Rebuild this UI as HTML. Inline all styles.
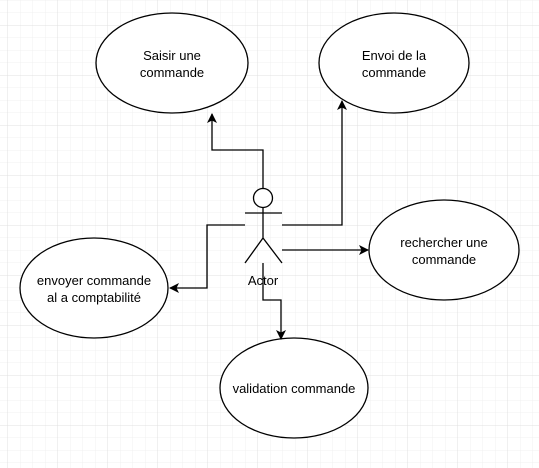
<!DOCTYPE html>
<html><head><meta charset="utf-8"><style>
html,body{margin:0;padding:0;background:#fff;}
svg{display:block;}
text{font-family:"Liberation Sans",Arial,sans-serif;font-size:13px;fill:#000;}
</style></head><body>
<svg width="539" height="468" viewBox="0 0 539 468" xmlns="http://www.w3.org/2000/svg">
<defs>
<pattern id="minor" width="12.5" height="12.5" patternUnits="userSpaceOnUse" x="7.5" y="0">
<path d="M0 0V12.5M0 0H12.5" stroke="#f0f0f0" stroke-width="1" fill="none"/>
</pattern>
<pattern id="major" width="50" height="50" patternUnits="userSpaceOnUse" x="7.5" y="25">
<path d="M0 0V50M0 0H50" stroke="#e0e0e0" stroke-width="1" fill="none"/>
</pattern>
<marker id="ar" markerWidth="10" markerHeight="10" refX="9" refY="5" orient="auto" markerUnits="userSpaceOnUse">
<path d="M0 0L10 5L0 10L2.5 5Z" fill="#000"/>
</marker>
</defs>
<rect width="539" height="468" fill="url(#minor)"/>
<rect width="539" height="468" fill="url(#major)"/>
<g fill="#fff" stroke="#000" stroke-width="1.3">
<ellipse cx="172" cy="63" rx="76" ry="50"/>
<ellipse cx="394" cy="63" rx="75" ry="50"/>
<ellipse cx="444" cy="250" rx="75" ry="50"/>
<ellipse cx="94" cy="288" rx="74" ry="50"/>
<ellipse cx="294" cy="388" rx="74" ry="50"/>
</g>
<g fill="none" stroke="#000" stroke-width="1.3">
<path d="M263 188V150H212V114" marker-end="url(#ar)"/>
<path d="M282 225H342V101" marker-end="url(#ar)"/>
<path d="M282 250H368" marker-end="url(#ar)"/>
<path d="M245 225H207V288H170" marker-end="url(#ar)"/>
<path d="M263 263V300H281V339" marker-end="url(#ar)"/>
</g>
<g fill="#fff" stroke="#000" stroke-width="1.3">
<circle cx="263" cy="198" r="9.5"/>
<path d="M263 207.5V238M245 213H282M245 263L263 238L282 263" fill="none"/>
</g>
<g text-anchor="middle">
<text x="172" y="60">Saisir une</text>
<text x="172" y="77">commande</text>
<text x="394" y="60">Envoi de la</text>
<text x="394" y="77">commande</text>
<text x="444" y="247">rechercher une</text>
<text x="444" y="264">commande</text>
<text x="94" y="285">envoyer commande</text>
<text x="94" y="302">al a comptabilité</text>
<text x="294" y="393">validation commande</text>
<text x="263" y="285">Actor</text>
</g>
</svg>
</body></html>
